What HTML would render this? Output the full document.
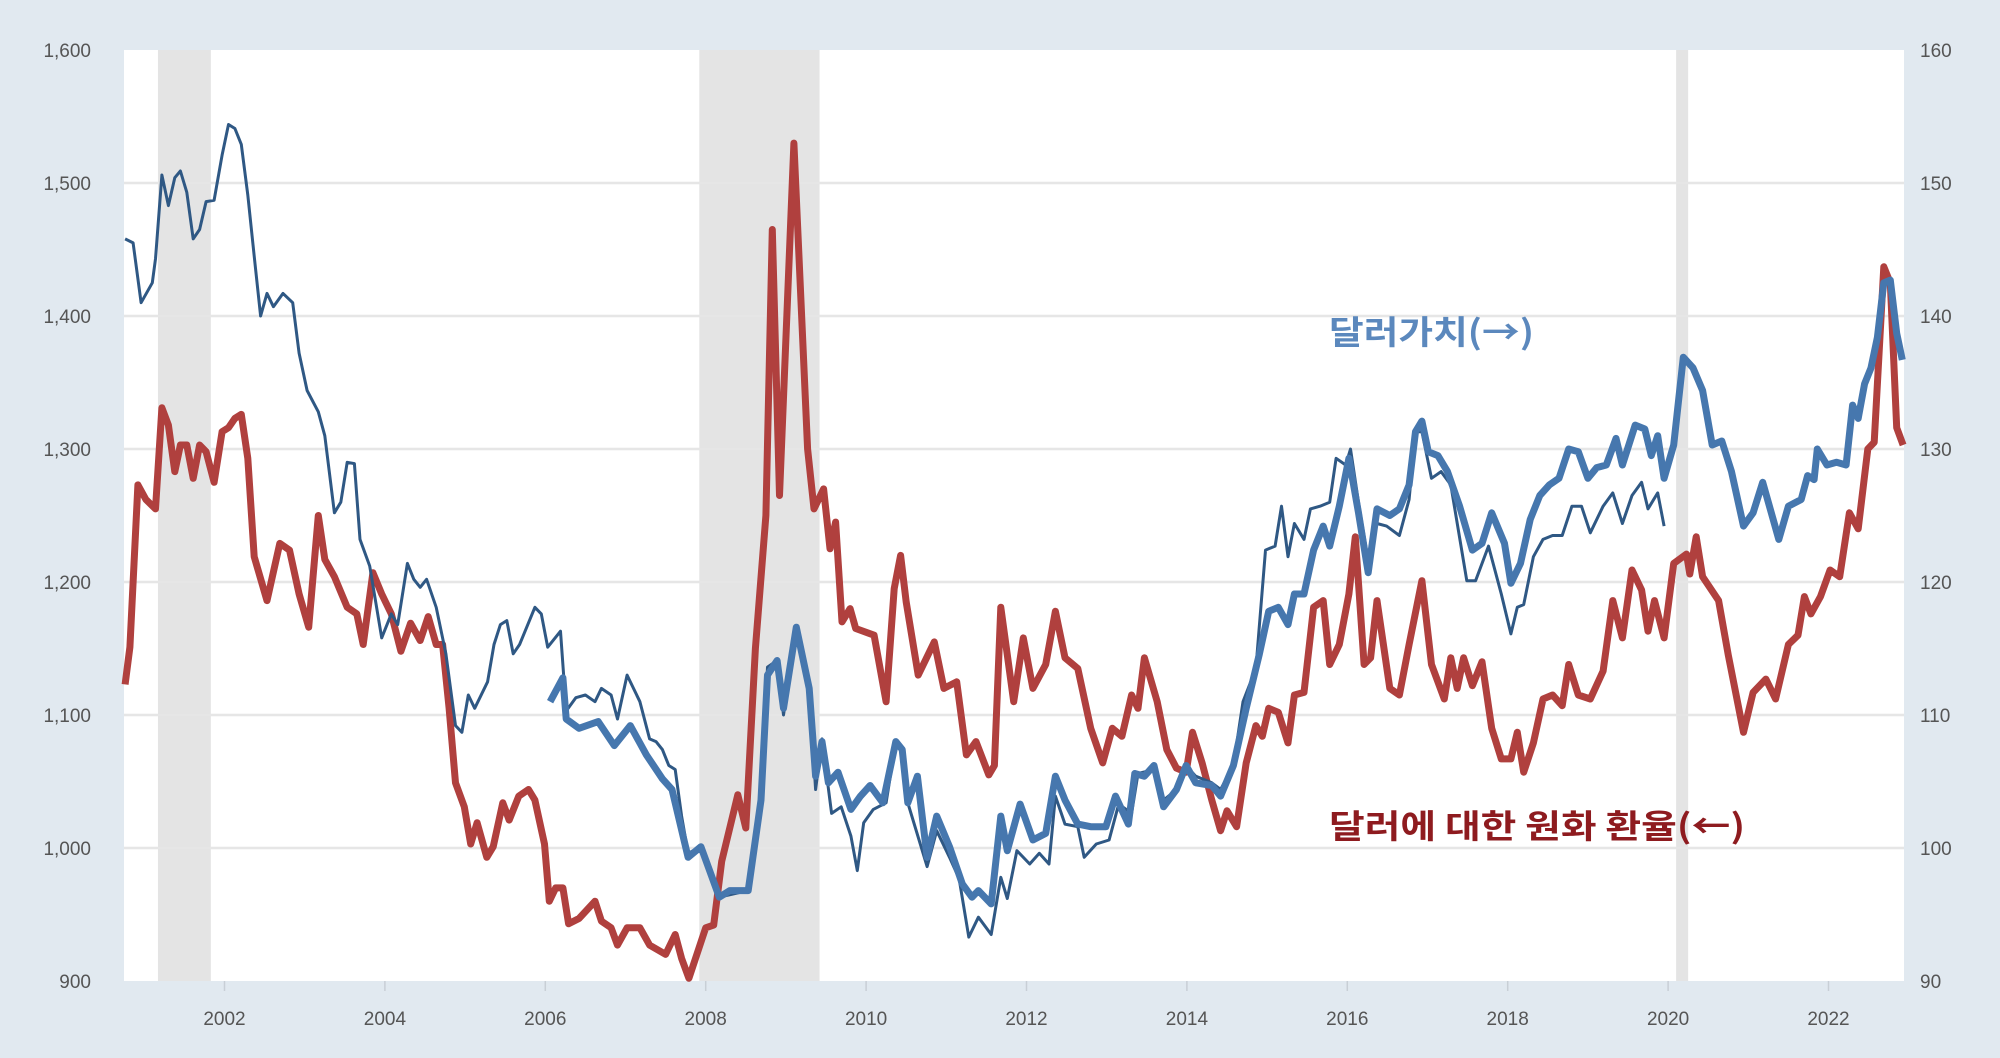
<!DOCTYPE html>
<html><head><meta charset="utf-8"><style>
html,body{margin:0;padding:0;background:#e1e9f0;}
svg{display:block;}
text{font-family:"Liberation Sans","Noto Sans CJK KR",sans-serif;}
.cjk{font-family:"Noto Sans CJK KR",sans-serif;}
</style></head><body>
<svg id="chart" width="2000" height="1058" viewBox="0 0 2000 1058" xmlns="http://www.w3.org/2000/svg">
<rect x="0" y="0" width="2000" height="1058" fill="#e1e9f0"/>
<rect x="124" y="50" width="1780" height="931" fill="#ffffff"/>
<g id="rec"></g>
<g id="grid"></g>
<g id="axes"></g>
<g id="series"></g>
<text class="cjk" x="1329" y="344" font-size="33" font-weight="bold" fill="#5b88bd" textLength="205" lengthAdjust="spacingAndGlyphs">달러가치(→)</text>
<text class="cjk" x="1329" y="838" font-size="33" font-weight="bold" fill="#8e1b1f" textLength="416" lengthAdjust="spacingAndGlyphs">달러에 대한 원화 환율(←)</text>
</svg>
<script>
const leftTicks=[900,1000,1100,1200,1300,1400,1500,1600];
const leftTickLabels=["900","1,000","1,100","1,200","1,300","1,400","1,500","1,600"];
const rightTicks=[90,100,110,120,130,140,150,160];
const xTicks=[2002,2004,2006,2008,2010,2012,2014,2016,2018,2020,2022];
const recessionStart=[2001.17,2007.92,2020.1];
const recessionEnd=[2001.83,2009.42,2020.25];

const redX=[2000.76,2000.82,2000.92,2001.02,2001.14,2001.22,2001.3,2001.38,2001.45,2001.53,2001.61,2001.69,2001.77,2001.87,2001.97,2002.05,2002.13,2002.21,2002.29,2002.37,2002.53,2002.69,2002.81,2002.93,2003.05,2003.17,2003.25,2003.37,2003.53,2003.65,2003.73,2003.85,2003.96,2004.08,2004.2,2004.32,2004.44,2004.54,2004.64,2004.72,2004.8,2004.88,2004.99,2005.07,2005.15,2005.27,2005.35,2005.47,2005.55,2005.67,2005.79,2005.87,2005.99,2006.05,2006.13,2006.22,2006.29,2006.42,2006.62,2006.7,2006.82,2006.9,2007.02,2007.18,2007.3,2007.5,2007.62,2007.7,2007.79,2008.0,2008.1,2008.2,2008.4,2008.5,2008.62,2008.75,2008.83,2008.92,2009.1,2009.27,2009.35,2009.47,2009.55,2009.62,2009.7,2009.8,2009.87,2010.1,2010.25,2010.35,2010.43,2010.5,2010.65,2010.85,2010.97,2011.13,2011.25,2011.37,2011.53,2011.6,2011.68,2011.84,2011.96,2012.08,2012.24,2012.36,2012.48,2012.64,2012.8,2012.95,2013.07,2013.19,2013.31,2013.39,2013.47,2013.63,2013.75,2013.87,2013.99,2014.07,2014.19,2014.31,2014.42,2014.5,2014.62,2014.74,2014.86,2014.94,2015.02,2015.14,2015.26,2015.34,2015.46,2015.58,2015.7,2015.78,2015.9,2016.02,2016.1,2016.21,2016.29,2016.37,2016.53,2016.65,2016.77,2016.93,2017.05,2017.21,2017.29,2017.37,2017.45,2017.56,2017.68,2017.8,2017.92,2018.04,2018.12,2018.2,2018.32,2018.44,2018.56,2018.68,2018.76,2018.88,2019.03,2019.19,2019.31,2019.43,2019.55,2019.67,2019.75,2019.83,2019.95,2020.07,2020.23,2020.27,2020.35,2020.43,2020.63,2020.75,2020.94,2021.06,2021.22,2021.34,2021.5,2021.62,2021.7,2021.78,2021.9,2022.02,2022.14,2022.26,2022.37,2022.49,2022.57,2022.69,2022.77,2022.85,2022.93];
const redY=[1123,1151,1273,1262,1255,1331,1318,1283,1303,1303,1278,1303,1298,1275,1313,1316,1323,1326,1293,1219,1186,1229,1224,1191,1166,1250,1217,1204,1181,1176,1153,1207,1191,1176,1148,1169,1156,1174,1153,1153,1105,1049,1031,1003,1019,993,1001,1034,1021,1039,1044,1036,1003,960,970,970,943,947,960,945,940,927,940,940,927,920,935,917,902,940,942,990,1040,1015,1150,1250,1465,1265,1530,1300,1255,1270,1225,1245,1170,1180,1165,1160,1110,1195,1220,1185,1130,1155,1120,1125,1070,1080,1055,1062,1181,1110,1158,1120,1138,1178,1143,1135,1090,1064,1090,1084,1115,1105,1143,1110,1074,1060,1057,1087,1064,1036,1013,1028,1016,1064,1092,1084,1105,1102,1079,1115,1117,1181,1186,1138,1153,1191,1234,1138,1143,1186,1120,1115,1153,1201,1138,1112,1143,1120,1143,1122,1140,1090,1067,1067,1087,1057,1079,1112,1115,1107,1138,1115,1112,1133,1186,1158,1209,1194,1163,1186,1158,1214,1221,1206,1234,1204,1186,1145,1087,1117,1127,1112,1153,1160,1189,1176,1189,1209,1204,1252,1240,1300,1305,1437,1425,1316,1303];

const broadX=[2006.06,2006.22,2006.26,2006.42,2006.66,2006.86,2007.06,2007.26,2007.46,2007.58,2007.78,2007.94,2008.17,2008.3,2008.53,2008.69,2008.77,2008.89,2008.97,2009.13,2009.29,2009.37,2009.45,2009.53,2009.65,2009.81,2009.93,2010.05,2010.21,2010.37,2010.45,2010.52,2010.64,2010.76,2010.88,2011.04,2011.2,2011.32,2011.4,2011.56,2011.68,2011.76,2011.92,2012.08,2012.24,2012.36,2012.48,2012.64,2012.8,2012.99,2013.11,2013.27,2013.35,2013.47,2013.59,2013.71,2013.87,2013.99,2014.11,2014.31,2014.42,2014.58,2014.74,2014.9,2015.02,2015.14,2015.26,2015.34,2015.46,2015.58,2015.7,2015.78,2015.9,2016.02,2016.14,2016.26,2016.37,2016.53,2016.65,2016.77,2016.85,2016.93,2017.01,2017.13,2017.25,2017.4,2017.56,2017.68,2017.8,2017.96,2018.04,2018.16,2018.28,2018.4,2018.52,2018.64,2018.76,2018.88,2019.0,2019.11,2019.23,2019.35,2019.43,2019.59,2019.71,2019.79,2019.87,2019.95,2020.07,2020.19,2020.31,2020.43,2020.55,2020.67,2020.79,2020.94,2021.06,2021.18,2021.38,2021.5,2021.66,2021.74,2021.82,2021.86,2021.98,2022.1,2022.22,2022.3,2022.37,2022.45,2022.53,2022.61,2022.69,2022.77,2022.85,2022.92];
const broadY=[111,112.8,109.7,109,109.5,107.7,109.2,107,105.2,104.4,99.3,100.1,96.3,96.8,96.8,103.6,113,114.1,110.5,116.6,112,105.4,108,104.9,105.7,102.9,103.9,104.7,103.4,108,107.4,103.4,105.4,99.3,102.4,100.1,97.3,96.3,96.8,95.8,102.4,99.8,103.3,100.6,101.1,105.4,103.6,101.8,101.6,101.6,103.9,101.8,105.6,105.4,106.2,103.1,104.4,106.2,104.9,104.7,103.9,106.2,110.5,114.5,117.8,118.1,116.8,119.1,119.1,122.4,124.2,122.7,125.7,129.3,125.2,120.7,125.5,125,125.5,127.3,131.3,132.1,129.8,129.5,128.3,125.7,122.4,122.9,125.2,122.9,119.9,121.4,124.7,126.5,127.3,127.8,130,129.8,127.8,128.6,128.8,130.8,128.8,131.8,131.5,129.5,131,127.8,130.3,136.9,136.1,134.4,130.3,130.6,128.3,124.2,125.2,127.5,123.2,125.7,126.2,128,127.7,130,128.8,129,128.8,133.3,132.3,134.9,136.1,138.4,142.5,142.7,138.7,136.7];

const oldX=[2000.76,2000.86,2000.96,2001.1,2001.14,2001.22,2001.3,2001.38,2001.45,2001.53,2001.61,2001.69,2001.77,2001.87,2001.97,2002.05,2002.13,2002.21,2002.29,2002.37,2002.45,2002.53,2002.61,2002.73,2002.85,2002.93,2003.03,2003.17,2003.25,2003.37,2003.45,2003.53,2003.62,2003.69,2003.81,2003.96,2004.08,2004.16,2004.28,2004.36,2004.44,2004.52,2004.64,2004.76,2004.88,2004.96,2005.04,2005.12,2005.28,2005.36,2005.44,2005.52,2005.6,2005.68,2005.87,2005.95,2006.03,2006.19,2006.26,2006.38,2006.5,2006.62,2006.7,2006.82,2006.9,2007.02,2007.18,2007.3,2007.38,2007.46,2007.54,2007.62,2007.7,2007.78,2007.94,2008.17,2008.53,2008.69,2008.77,2008.89,2008.97,2009.13,2009.29,2009.37,2009.45,2009.57,2009.69,2009.81,2009.89,2009.97,2010.09,2010.25,2010.37,2010.45,2010.52,2010.76,2010.88,2011.04,2011.16,2011.28,2011.4,2011.56,2011.68,2011.76,2011.88,2012.04,2012.16,2012.28,2012.36,2012.48,2012.64,2012.72,2012.87,2013.03,2013.15,2013.31,2013.39,2013.59,2013.71,2013.87,2013.99,2014.11,2014.31,2014.42,2014.58,2014.7,2014.86,2014.98,2015.1,2015.18,2015.26,2015.34,2015.46,2015.54,2015.66,2015.78,2015.86,2015.98,2016.04,2016.14,2016.26,2016.37,2016.49,2016.65,2016.77,2016.85,2016.93,2017.05,2017.17,2017.29,2017.49,2017.6,2017.76,2017.92,2018.04,2018.12,2018.2,2018.32,2018.44,2018.56,2018.68,2018.8,2018.92,2019.03,2019.19,2019.31,2019.43,2019.55,2019.67,2019.75,2019.87,2019.95];
const oldY=[145.8,145.5,141,142.5,144.3,150.6,148.3,150.4,150.9,149.3,145.8,146.5,148.6,148.7,152.1,154.4,154.1,152.9,149.1,144.5,140,141.7,140.7,141.7,141,137.2,134.4,132.8,131,125.2,126,129,128.9,123.2,121.2,115.8,117.6,116.8,121.4,120.2,119.6,120.2,118.1,114.6,109.2,108.7,111.5,110.5,112.5,115.3,116.8,117.1,114.6,115.3,118.1,117.6,115.1,116.3,110.3,111.3,111.5,111,112,111.5,109.7,113,111,108.2,108,107.4,106.2,105.9,102.4,99.6,100.1,96.3,96.8,103.6,113.6,114.1,110,116.6,112,104.4,108.2,102.6,103.1,100.9,98.3,101.9,102.9,103.4,108,107.4,103.4,98.6,101.3,99.3,97.7,93.3,94.8,93.5,97.8,96.2,99.8,98.8,99.6,98.8,103.9,101.8,101.6,99.3,100.3,100.6,103.3,102.6,105.6,105.9,103.6,104.4,106.2,105.4,104.9,104.4,106.2,111,113.5,122.4,122.7,125.7,121.9,124.4,123.2,125.5,125.7,126,129.3,128.8,130,126,121.6,124.4,124.2,123.5,126.2,131.3,131.3,127.8,128.3,127.3,120.1,120.1,122.7,119.1,116.1,118.1,118.3,121.9,123.2,123.5,123.5,125.7,125.7,123.7,125.7,126.7,124.4,126.5,127.5,125.5,126.7,124.2];

const NS="http://www.w3.org/2000/svg";
const X0=124,X1=1904,Y0=50,Y1=981;
function xs(t){return 224.5+(t-2002)*80.2;}
function yL(v){return Y1-(v-900)/700*(Y1-Y0);}
function yR(v){return Y1-(v-90)/70*(Y1-Y0);}
function mk(tag,attrs,parent){const e=document.createElementNS(NS,tag);for(const k in attrs)e.setAttribute(k,attrs[k]);parent.appendChild(e);return e;}
const rec=document.getElementById('rec'),grid=document.getElementById('grid'),axes=document.getElementById('axes'),series=document.getElementById('series');

for(let i=0;i<recessionStart.length;i++){
  const r=mk('rect',{x:xs(recessionStart[i]),y:Y0,width:xs(recessionEnd[i])-xs(recessionStart[i]),height:Y1-Y0,fill:'#e4e4e4'},rec);
  
  
}
for(let i=0;i<leftTicks.length;i++){
  const y=yL(leftTicks[i]);
  if(i>0&&i<leftTicks.length-1){
    const g=mk('line',{x1:X0,x2:X1,y1:y,y2:y,stroke:'#e6e6e6','stroke-width':2.5},grid);
    
    
  }
  const t=mk('text',{x:91,y:y+7,'text-anchor':'end','font-size':19,fill:'#555'},axes);
  t.textContent=leftTickLabels[i];
  
  
}
for(let i=0;i<rightTicks.length;i++){
  const t=mk('text',{x:1920,y:yR(rightTicks[i])+7,'font-size':19,fill:'#555'},axes);
  t.textContent=String(rightTicks[i]);
  
  
}
for(let i=0;i<xTicks.length;i++){
  const x=xs(xTicks[i]);
  const tk=mk('line',{x1:x,x2:x,y1:Y1,y2:Y1+10,stroke:'#c8cfd6','stroke-width':1.5},axes);
  
  
  const t=mk('text',{x:x,y:1025,'text-anchor':'middle','font-size':19,fill:'#555'},axes);
  t.textContent=String(xTicks[i]);
  
  
}
function path(xa,ya,yf){let d='';for(let i=0;i<xa.length;i++){d+=(i?'L':'M')+xs(xa[i]).toFixed(1)+','+yf(ya[i]).toFixed(1);}return d;}
const pRed=mk('path',{d:path(redX,redY,yL),fill:'none',stroke:'#b0403e','stroke-width':7,'stroke-linejoin':'round'},series);


const pOld=mk('path',{d:path(oldX,oldY,yR),fill:'none',stroke:'#2f5884','stroke-width':3,'stroke-linejoin':'round'},series);


const pBroad=mk('path',{d:path(broadX,broadY,yR),fill:'none',stroke:'#4677ae','stroke-width':7,'stroke-linejoin':'round'},series);


</script>
</body></html>
